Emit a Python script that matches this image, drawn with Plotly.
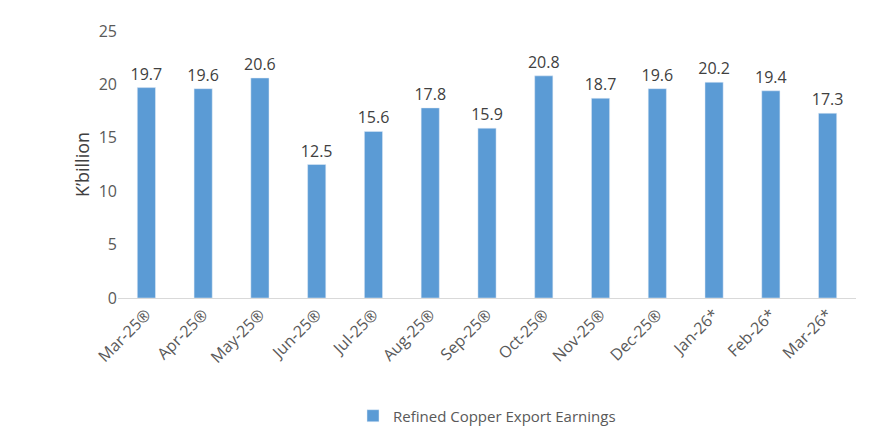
import plotly.graph_objects as go

categories = ["Mar-25®","Apr-25®","May-25®","Jun-25®","Jul-25®","Aug-25®","Sep-25®","Oct-25®","Nov-25®","Dec-25®","Jan-26*","Feb-26*","Mar-26*"]
values = [19.7,19.6,20.6,12.5,15.6,17.8,15.9,20.8,18.7,19.6,20.2,19.4,17.3]
series_name = "Refined Copper Export Earnings"

fig = go.Figure(go.Bar(x=categories, y=values, name=series_name, marker_color="#5B9BD5",
                       width=0.32, text=[f"{v:.1f}" for v in values], textposition="outside",
                       constraintext="none",
                       textfont=dict(size=16, color="#404040"), cliponaxis=False, showlegend=True))
fig.update_layout(
    width=870, height=447, plot_bgcolor="white", paper_bgcolor="white",
    font=dict(family="Open Sans, Calibri, sans-serif", color="#595959", size=16),
    margin=dict(l=110, r=22, t=17, b=157),
    bargap=0.68, uniformtext=dict(mode=False),
    legend=dict(orientation="h", x=0.5, xanchor="center", y=-0.38, yanchor="top", font=dict(size=15)),
    yaxis=dict(range=[0,25], dtick=5, showgrid=False, zeroline=False,
               title=dict(text="K’billion", font=dict(size=18, color="#404040"), standoff=4),
               tickfont=dict(size=16)),
    xaxis=dict(tickangle=-45, showline=True, linecolor="#D9D9D9", tickfont=dict(size=16)),
)
fig.write_html("out.html")
